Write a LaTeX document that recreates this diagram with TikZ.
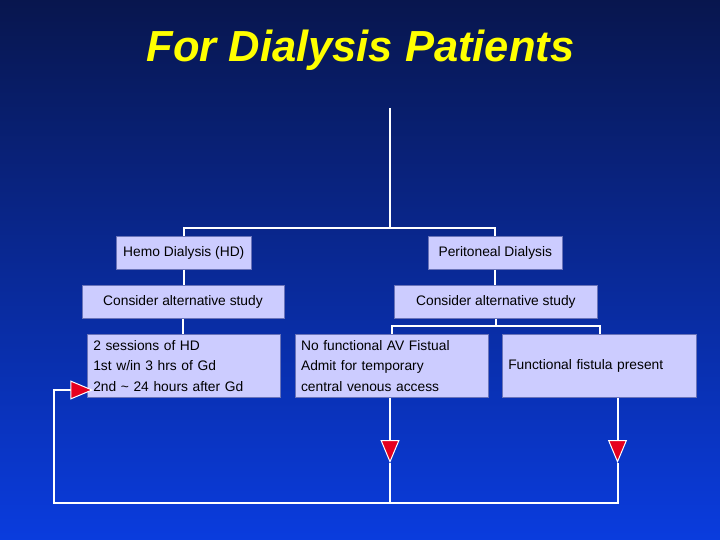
\documentclass[tikz,border=0pt]{standalone}
\usepackage{fontspec}
\setmainfont{Liberation Sans}
\usepackage{tikz}
\usetikzlibrary{arrows.meta}
\definecolor{bgtop}{RGB}{8,22,78}
\definecolor{bgmid}{RGB}{10,48,185}
\definecolor{bgbot}{RGB}{10,60,222}
\definecolor{boxfill}{RGB}{204,204,255}
\definecolor{boxline}{RGB}{105,115,185}
\definecolor{tipred}{RGB}{230,0,30}
\definecolor{titleyellow}{RGB}{255,255,0}
\tikzset{
  every node/.style={font=\fontsize{13.8}{20.5}\selectfont},
  box/.style={draw=boxline,fill=boxfill,line width=0.9pt,inner sep=0pt,text=black},
  notebox/.style={box,align=left,inner xsep=6pt,inner ysep=0pt},
  link/.style={white,line width=2pt},
  redtip/.style={-{Triangle[length=23pt,width=19pt,fill=tipred,line width=1pt]}},
  titletext/.style={font=\fontsize{43.5}{48}\selectfont\bfseries\itshape,anchor=base}
}

\begin{document}
\begin{tikzpicture}[x=1pt,y=-1pt]
\useasboundingbox (0,0) rectangle (720,540);
\shade[top color=bgtop,middle color=bgmid,bottom color=bgbot] (0,0) rectangle (720,540);
% title
\node[titletext,text=titleyellow] (title) at (360.5,61.7) {For Dialysis Patients};
% bend points
\coordinate (top) at (390,108);
\coordinate (split) at (390,228.3);
\coordinate (fork) at (495.7,326);
\coordinate (dropA) at (390,463);
\coordinate (joinA) at (390,503.3);
\coordinate (dropB) at (617.5,463);
\coordinate (corner) at (54,503.3);
\coordinate (entry) at (93.3,390);
% boxes
\node[box,minimum width=135.7,minimum height=33.3] (hd) at (183.8,252.6) {Hemo Dialysis (HD)};
\node[box,minimum width=134.7,minimum height=33.3] (pd) at (495.3,252.6) {Peritoneal Dialysis};
\node[box,minimum width=202,minimum height=33] (altHD) at (183,301.8) {Consider alternative study};
\node[box,minimum width=203.7,minimum height=33] (altPD) at (495.9,301.8) {Consider alternative study};
\node[notebox,text width=181.4,minimum height=63] (sess) at (184,365.8)
  {2 sessions of HD\\1st w/in 3 hrs of Gd\\2nd \textasciitilde{} 24 hours after Gd};
\node[notebox,text width=181.7,minimum height=63] (noAV) at (391.9,365.8)
  {No functional AV Fistual\\Admit for temporary\\central venous access};
\node[notebox,text width=182.4,minimum height=63] (fist) at (599.5,365.8)
  {Functional fistula present};
% tree connectors
\draw[link] (top) -- (split);
\draw[link] (hd.north) |- (split) -| (pd.north);
\draw[link] (hd.south) -- (hd.south |- altHD.north);
\draw[link] (pd.south) -- (pd.south |- altPD.north);
\draw[link] (altHD.south) -- (altHD.south |- sess.north);
\draw[link] (altPD.south -| fork) -- (fork);
\draw[link] (noAV.north) |- (fork) -| (fist.north);
% loop back to HD
\draw[link,redtip] (noAV.south -| dropA) -- (dropA);
\draw[link] (dropA) -- (joinA);
\draw[link,redtip] (fist.south -| dropB) -- (dropB);
\draw[link,redtip] (dropB) |- (corner) |- (entry);
\end{tikzpicture}
\end{document}
